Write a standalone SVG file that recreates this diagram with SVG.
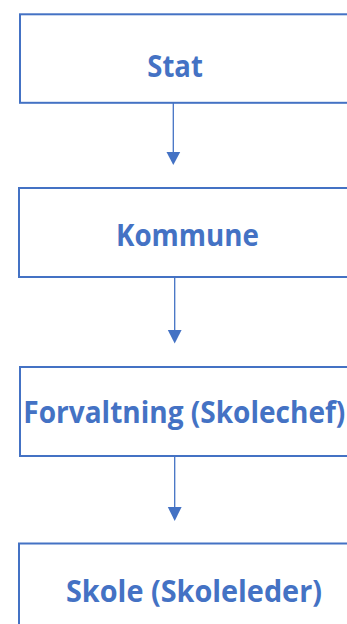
<svg xmlns="http://www.w3.org/2000/svg" width="347" height="624" viewBox="0 0 347 624">
<style>
.box{fill:#ffffff;stroke:#4472C4;stroke-width:2}
.lbl{font-family:"Open Sans",Lato,"Liberation Sans",sans-serif;font-weight:bold;font-size:30.5px;fill:#4472C4}
.conn{stroke:#4472C4;stroke-width:1.3;fill:none}
.head{fill:#4472C4}
</style>
<rect width="347" height="624" fill="#ffffff"/>
<g id="connectors">
<line class="conn" x1="173.3" y1="99" x2="173.3" y2="153"/>
<polygon class="head" points="166.5,152 180.2,152 173.3,165"/>
<line class="conn" x1="174.7" y1="277" x2="174.7" y2="331"/>
<polygon class="head" points="167.8,330 181.6,330 174.7,343.5"/>
<line class="conn" x1="174.7" y1="456" x2="174.7" y2="508"/>
<polygon class="head" points="167.8,507 181.6,507 174.7,521"/>
</g>
<g id="node-stat">
<rect class="box" x="20" y="14.3" width="360" height="88.5"/>
<text class="lbl" x="147.3" y="76.5" textLength="55.5" lengthAdjust="spacingAndGlyphs">Stat</text>
</g>
<g id="node-kommune">
<rect class="box" x="19" y="188" width="360" height="89"/>
<text class="lbl" x="116" y="245.5" textLength="143" lengthAdjust="spacingAndGlyphs">Kommune</text>
</g>
<g id="node-forvaltning">
<rect class="box" x="20" y="367" width="360" height="89"/>
<text class="lbl" x="23.3" y="422.5" textLength="322" lengthAdjust="spacingAndGlyphs">Forvaltning (Skolechef)</text>
</g>
<g id="node-skole">
<rect class="box" x="19" y="543.5" width="360" height="100"/>
<text class="lbl" x="66" y="601.5" textLength="256" lengthAdjust="spacingAndGlyphs">Skole (Skoleleder)</text>
</g>
</svg>
